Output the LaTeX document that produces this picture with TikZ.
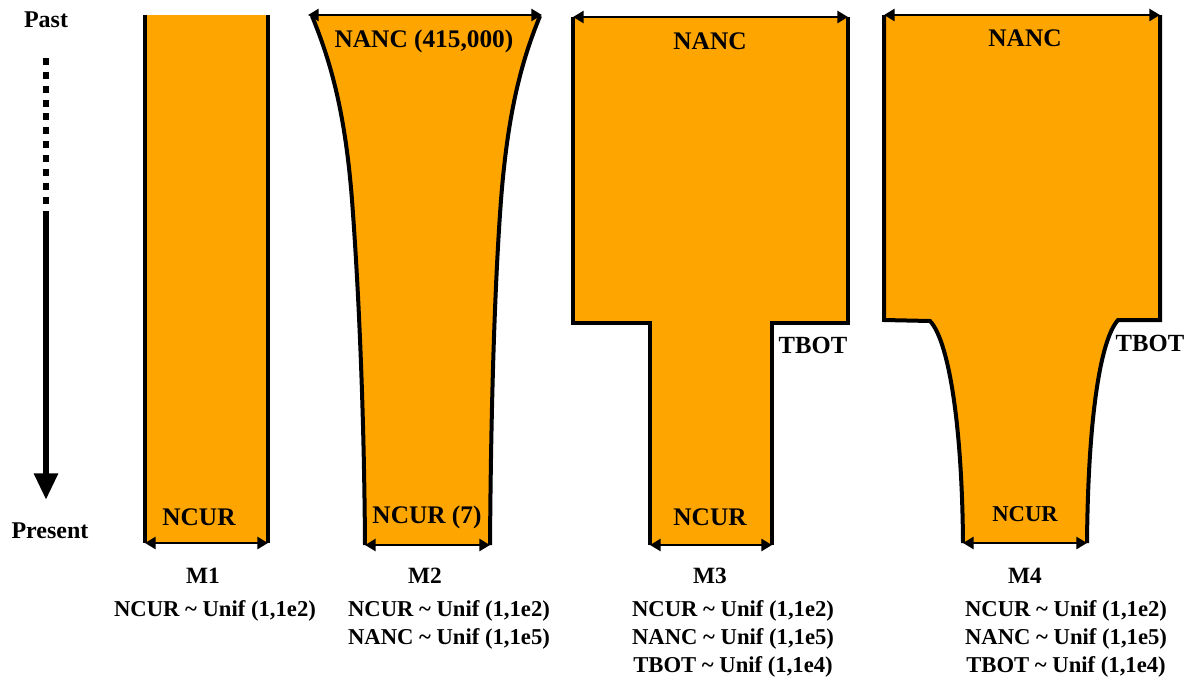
\documentclass[tikz,border=0pt]{standalone}
\usepackage{fontspec}
\setmainfont{Liberation Serif}
\usetikzlibrary{arrows.meta}
\definecolor{popfill}{HTML}{FFA500}
\tikzset{
  x=0.75pt, y=-0.75pt,
  popshape/.style={fill=popfill, draw=none},
  popedge/.style={draw=black, line width=3pt, line join=miter},
  measure/.style={draw=black, line width=2.2pt, {Triangle[length=8pt,width=9pt]}-{Triangle[length=8pt,width=9pt]}},
  inlab/.style={font=\bfseries\fontsize{19}{22}\selectfont, inner sep=0pt},
  mlab/.style={font=\bfseries\fontsize{17.5}{20}\selectfont, inner sep=0pt},
  plab/.style={font=\bfseries\fontsize{17}{21.2}\selectfont, inner sep=0pt, align=center, anchor=north},
  tlab/.style={font=\bfseries\fontsize{18.5}{22}\selectfont, inner sep=0pt},
  axlab/.style={font=\bfseries\fontsize{18}{20}\selectfont, inner sep=0pt},
}
\begin{document}
\begin{tikzpicture}
\useasboundingbox (0,0) rectangle (1191,683);

% time axis
\node[axlab] (past) at (46,20) {Past};
\node[axlab] (present) at (50,531) {Present};
\coordinate (d0) at (46,58);
\coordinate (d1) at (46,211);
\coordinate (tip) at (46,500);
\draw[line width=5.2pt, dash pattern=on 5.2pt off 5.2pt] (d0) -- (d1);
\draw[line width=5.2pt, -{Triangle[length=20pt,width=17pt]}] (d1) -- (tip);

% ---------- M1 ----------
\fill[popshape] (145,15) rectangle (268,543);
\draw[popedge] (145,15) -- (145,543);
\draw[popedge] (268,15) -- (268,543);
\coordinate (m1l) at (145,543);
\coordinate (m1r) at (268,543);
\draw[measure] (m1l) -- (m1r);
\node[inlab] (m1ncur) at (199,517) {NCUR};
\node[mlab] (m1name) at (203,576) {M1};
\node[plab] (m1prior) at (215,600) {NCUR \textasciitilde{} Unif (1,1e2)};

% ---------- M2 ----------
\fill[popshape] (312,16) .. controls (330,60) and (345,110) .. (352,200)
  .. controls (358,280) and (364,400) .. (365,545) -- (490,545)
  .. controls (491,400) and (495,280) .. (501,200)
  .. controls (508,110) and (522,60) .. (540,16) -- cycle;
\draw[popedge] (312,16) .. controls (330,60) and (345,110) .. (352,200)
  .. controls (358,280) and (364,400) .. (365,545);
\draw[popedge] (540,16) .. controls (522,60) and (508,110) .. (501,200)
  .. controls (495,280) and (491,400) .. (490,545);
\coordinate (m2tl) at (308,15);
\coordinate (m2tr) at (542,15);
\draw[measure] (m2tl) -- (m2tr);
\coordinate (m2l) at (365,545);
\coordinate (m2r) at (490,545);
\draw[measure] (m2l) -- (m2r);
\node[inlab] (m2nanc) at (424,41) {NANC (415,000)};
\node[inlab] (m2ncur) at (427,517) {NCUR (7)};
\node[mlab] (m2name) at (425,576) {M2};
\node[plab] (m2prior) at (449,600) {NCUR \textasciitilde{} Unif (1,1e2)\\NANC \textasciitilde{} Unif (1,1e5)};

% ---------- M3 ----------
\fill[popshape] (573,17) -- (848,17) -- (848,323) -- (772,323) -- (772,545)
  -- (650,545) -- (650,323) -- (573,323) -- cycle;
\draw[popedge] (573,17) -- (573,323) -- (650,323) -- (650,545);
\draw[popedge] (848,17) -- (848,323) -- (772,323) -- (772,545);
\coordinate (m3tl) at (573,17);
\coordinate (m3tr) at (848,17);
\draw[measure] (m3tl) -- (m3tr);
\coordinate (m3l) at (650,545);
\coordinate (m3r) at (772,545);
\draw[measure] (m3l) -- (m3r);
\node[inlab] (m3nanc) at (710,41) {NANC};
\node[inlab] (m3ncur) at (710,517) {NCUR};
\node[tlab] (m3tbot) at (813,345) {TBOT};
\node[mlab] (m3name) at (710,576) {M3};
\node[plab] (m3prior) at (733,600) {NCUR \textasciitilde{} Unif (1,1e2)\\NANC \textasciitilde{} Unif (1,1e5)\\TBOT \textasciitilde{} Unif (1,1e4)};

% ---------- M4 ----------
\fill[popshape] (884,15) -- (1160,15) -- (1160,320) -- (1118,320)
  .. controls (1100,340) and (1088,420) .. (1087,543) -- (963,543)
  .. controls (962,420) and (948,340) .. (930,321) -- (884,320) -- cycle;
\draw[popedge] (884,15) -- (884,320) -- (930,321)
  .. controls (948,340) and (962,420) .. (963,543);
\draw[popedge] (1160,15) -- (1160,320) -- (1118,320)
  .. controls (1100,340) and (1088,420) .. (1087,543);
\coordinate (m4tl) at (884,15);
\coordinate (m4tr) at (1160,15);
\draw[measure] (m4tl) -- (m4tr);
\coordinate (m4l) at (963,543);
\coordinate (m4r) at (1087,543);
\draw[measure] (m4l) -- (m4r);
\node[inlab] (m4nanc) at (1025,38) {NANC};
\node[font=\bfseries\fontsize{17}{20}\selectfont, inner sep=0pt] (m4ncur) at (1025,514) {NCUR};
\node[tlab] (m4tbot) at (1150,343) {TBOT};
\node[mlab] (m4name) at (1025,576) {M4};
\node[plab] (m4prior) at (1066,600) {NCUR \textasciitilde{} Unif (1,1e2)\\NANC \textasciitilde{} Unif (1,1e5)\\TBOT \textasciitilde{} Unif (1,1e4)};
\end{tikzpicture}
\end{document}
